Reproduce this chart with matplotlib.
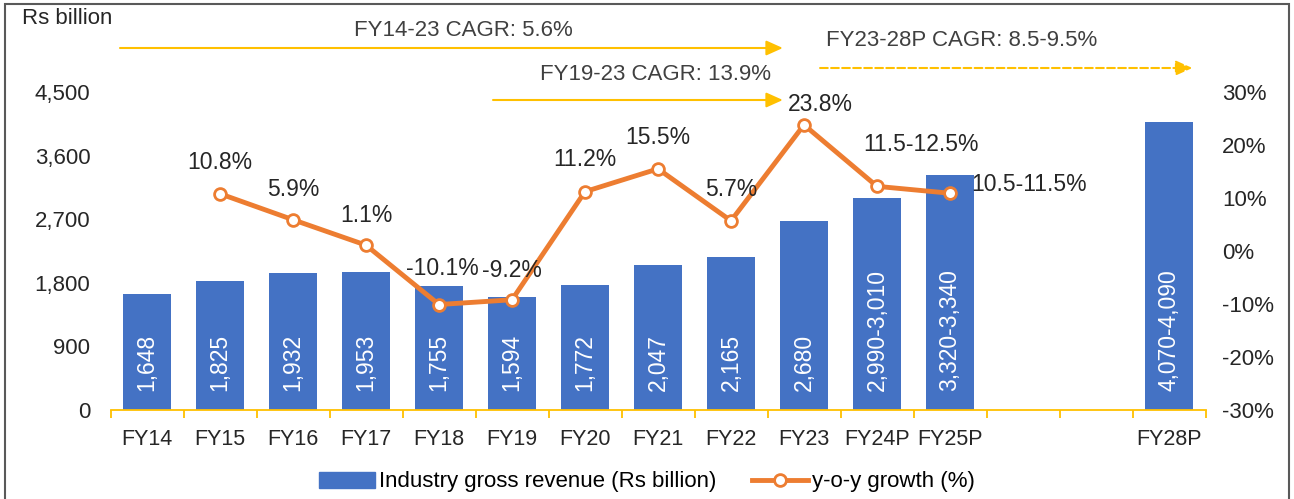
import matplotlib
matplotlib.use("Agg")
import matplotlib.pyplot as plt
import numpy as np
from matplotlib.lines import Line2D
from matplotlib.patches import Patch, Rectangle

plt.rcParams['font.family'] = ['Liberation Sans', 'DejaVu Sans']

categories = ["FY14", "FY15", "FY16", "FY17", "FY18", "FY19", "FY20", "FY21",
              "FY22", "FY23", "FY24P", "FY25P", "", "", "FY28P"]
revenue = [1648, 1825, 1932, 1953, 1755, 1594, 1772, 2047, 2165, 2680,
           3000, 3330, None, None, 4080]
revenue_labels = ["1,648", "1,825", "1,932", "1,953", "1,755", "1,594", "1,772",
                  "2,047", "2,165", "2,680", "2,990-3,010", "3,320-3,340", "", "",
                  "4,070-4,090"]
growth = [None, 10.8, 5.9, 1.1, -10.1, -9.2, 11.2, 15.5, 5.7, 23.8, 12.2, 10.9]
growth_labels = ["", "10.8%", "5.9%", "1.1%", "-10.1%", "-9.2%", "11.2%", "15.5%",
                 "5.7%", "23.8%", "11.5-12.5%", "10.5-11.5%"]
left_ticks = [0, 900, 1800, 2700, 3600, 4500]
right_ticks = [-30, -20, -10, 0, 10, 20, 30]

BLUE = "#4472C4"
ORANGE = "#ED7D31"
GOLD = "#FFC000"
TXT = "#262626"

fig = plt.figure(figsize=(12.94, 4.99), dpi=100)
ax = fig.add_axes([110.5 / 1294, 1 - 410 / 499, (1205.5 - 110.5) / 1294, 400 / 499])
ax2 = ax.twinx()

x = np.arange(len(categories))
ymax_left = 4500 * 400 / 318
ax.set_ylim(0, ymax_left)
ax2.set_ylim(-30, -30 + 60 * 400 / 318)
ax.set_xlim(-0.5, len(categories) - 0.5)

bx = [i for i, v in enumerate(revenue) if v is not None]
bv = [revenue[i] for i in bx]
ax.bar(bx, bv, width=0.66, color=BLUE, zorder=2)
for i in bx:
    ax.text(i, 270, revenue_labels[i], rotation=90, ha='center', va='bottom',
            color='white', fontsize=16.5, zorder=3)

gx = [i for i, v in enumerate(growth) if v is not None]
gv = [growth[i] for i in gx]
ax2.plot(gx, gv, color=ORANGE, lw=3.5, marker='o', ms=8.5, mfc='white',
         mec=ORANGE, mew=2, zorder=4)
offsets = {1: (0, 31), 2: (0, 30), 3: (0, 30), 4: (3, 36), 5: (0, 29), 6: (0, 32),
           7: (0, 31), 8: (0, 31), 9: (16, 20), 10: (44, 42)}
for i in gx:
    if i in offsets:
        ax2.annotate(growth_labels[i], (i, growth[i]), xytext=offsets[i],
                     textcoords='offset pixels', ha='center', va='center',
                     fontsize=16.5, color=TXT, zorder=5)
ax2.annotate(growth_labels[11], (11, growth[11]), xytext=(21, 9),
             textcoords='offset pixels', ha='left', va='center',
             fontsize=16.5, color=TXT, zorder=5)

# axes styling
for s in ['left', 'top', 'right']:
    ax.spines[s].set_visible(False)
    ax2.spines[s].set_visible(False)
ax.spines['bottom'].set_color(GOLD)
ax.spines['bottom'].set_linewidth(1.3)
ax2.spines['bottom'].set_visible(False)

ax.set_yticks(left_ticks)
ax.set_yticklabels([f"{t:,}" for t in left_ticks], fontsize=16, color=TXT)
ax.tick_params(axis='y', length=0, pad=14.4)
ax2.set_yticks(right_ticks)
ax2.set_yticklabels([f"{t}%" for t in right_ticks], fontsize=16, color=TXT)
ax2.tick_params(axis='y', length=0, pad=12)

ax.set_xticks(x)
ax.set_xticklabels(categories, fontsize=15.5, color=TXT)
ax.tick_params(axis='x', which='major', length=0, pad=14)
ax.set_xticks(np.arange(-0.5, len(categories), 1), minor=True)
ax.tick_params(axis='x', which='minor', length=6, color=GOLD, width=1.3)

# CAGR arrows
def arrow(x0, x1, y, dashed=False):
    ax.annotate("", xy=(x1, y), xytext=(x0, y),
                arrowprops=dict(arrowstyle='-|>,head_length=1.0,head_width=0.45',
                                color=GOLD, lw=1.5,
                                linestyle='--' if dashed else '-',
                                shrinkA=0, shrinkB=0), zorder=5)

y_a1 = 4500 * (410 - 48) / 318
y_a2 = 4500 * (410 - 100) / 318
y_a3 = 4500 * (410 - 68) / 318
arrow(-0.37, 8.71, y_a1)
arrow(4.74, 8.71, y_a2)
arrow(9.22, 14.32, y_a3, dashed=True)
ax.text((463 - 147) / 73, 4500 * (410 - 31) / 318, "FY14-23 CAGR: 5.6%",
        ha='center', va='center', fontsize=16, color='#404040')
ax.text((655 - 147) / 73, 4500 * (410 - 74) / 318, "FY19-23 CAGR: 13.9%",
        ha='center', va='center', fontsize=16, color='#404040')
ax.text((962 - 147) / 73, 4500 * (410 - 40) / 318, "FY23-28P CAGR: 8.5-9.5%",
        ha='center', va='center', fontsize=16, color='#404040')

fig.text(67 / 1294, 1 - 19 / 499, "Rs billion", ha='center', va='center',
         fontsize=16, color=TXT)

handles = [Patch(facecolor=BLUE, edgecolor=BLUE),
           Line2D([0], [0], color=ORANGE, lw=3.5, marker='o', ms=8.5, mfc='white',
                  mec=ORANGE, mew=2)]
fig.legend(handles, ["Industry gross revenue (Rs billion)", "y-o-y growth (%)"],
           loc='center', bbox_to_anchor=(0.5, 1 - 482 / 499), ncol=2,
           frameon=False, fontsize=16, handlelength=2.5, columnspacing=1.6,
           handletextpad=0.2)

fig.patches.append(Rectangle((5 / 1294, -0.02), 1284 / 1294, 1.0 - 4 / 499 + 0.02,
                             transform=fig.transFigure, fill=False,
                             edgecolor='#595959', lw=1.5))

fig.savefig("out.png", dpi=100)
